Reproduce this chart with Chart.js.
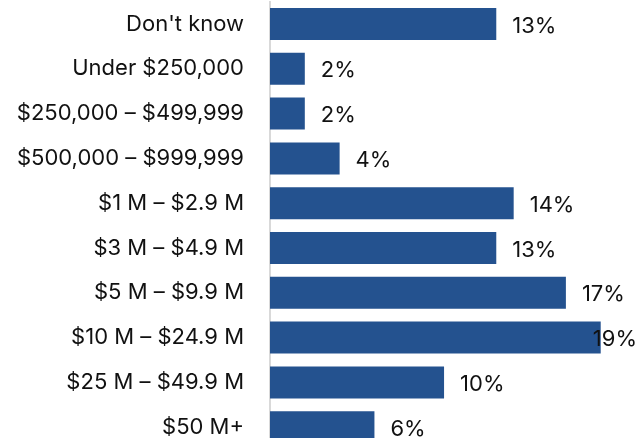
<!DOCTYPE html>
<html>
<head>
<meta charset="utf-8">
<script src="https://cdn.jsdelivr.net/npm/chart.js@4.4.1/dist/chart.umd.min.js"></script>
<style>
    html, body { margin: 0; padding: 0; background: #fff; overflow: hidden; }
    canvas { display: block; }
</style>
</head>
<body>
<canvas id="myBarChart" width="639" height="450"></canvas>
<script>
const categories = [
    "Don't know",
    'Under $250,000',
    '$250,000 – $499,999',
    '$500,000 – $999,999',
    '$1 M – $2.9 M',
    '$3 M – $4.9 M',
    '$5 M – $9.9 M',
    '$10 M – $24.9 M',
    '$25 M – $49.9 M',
    '$50 M+'
];
const values = [13, 2, 2, 4, 14, 13, 17, 19, 10, 6];

const fontFamily = 'Inter, "Noto Sans", sans-serif';

// draws the "13%" style labels after each bar, kept inside the canvas
const valueLabels = {
    id: 'valueLabels',
    afterDatasetsDraw(chart) {
        const ctx = chart.ctx;
        const meta = chart.getDatasetMeta(0);
        ctx.save();
        ctx.font = '22px ' + fontFamily;
        ctx.fillStyle = '#111';
        ctx.textBaseline = 'middle';
        ctx.textAlign = 'left';
        meta.data.forEach((bar, i) => {
            const text = values[i] + '%';
            const w = ctx.measureText(text).width;
            let x = bar.x + 16;
            if (x + w > chart.width - 2) {
                x = chart.width - 2 - w;
            }
            ctx.fillText(text, x, bar.y + 2);
        });
        ctx.restore();
    }
};

function createBarChart() {
    const config = {
        type: 'bar',
        data: {
            labels: categories,
            datasets: [{
                data: values,
                backgroundColor: '#24528f',
                borderWidth: 0,
                categoryPercentage: 0.8,
                barPercentage: 0.893
            }]
        },
        options: {
            indexAxis: 'y',
            responsive: false,
            animation: false,
            layout: { padding: { top: 1.6, right: 0, bottom: 0.4, left: 0 } },
            plugins: {
                legend: { display: false },
                tooltip: { enabled: false }
            },
            scales: {
                x: {
                    display: false,
                    min: 0,
                    max: 21.2
                },
                y: {
                    grid: { display: false, drawTicks: false },
                    border: { display: true, color: '#d9d9d9', width: 2 },
                    ticks: {
                        color: '#111',
                        padding: 26,
                        font: { family: fontFamily, size: 22 }
                    },
                    afterFit(scale) {
                        scale.width = 270;
                        // tick padding would also pad top/bottom; drop that
                        scale.paddingTop = 0;
                        scale.paddingBottom = 0;
                    }
                }
            }
        },
        plugins: [valueLabels]
    };
    const ctx = document.getElementById('myBarChart').getContext('2d');
    new Chart(ctx, config);
}

window.onload = createBarChart;
</script>
</body>
</html>
